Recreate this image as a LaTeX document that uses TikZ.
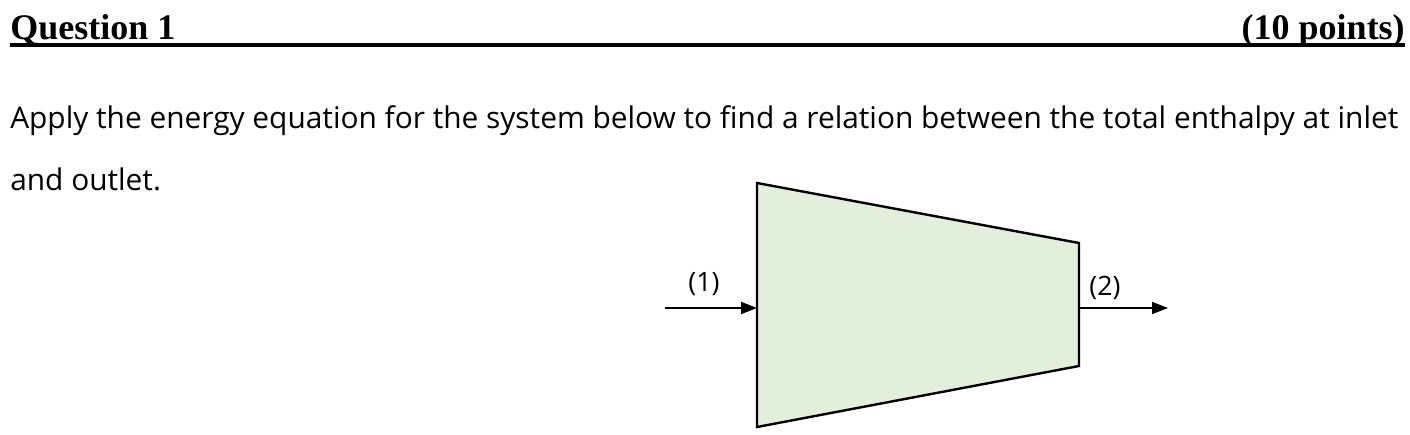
\documentclass[tikz,border=0pt]{standalone}
\usepackage{fontspec}
\setmainfont{Open Sans}
\newfontfamily\hdfont{Liberation Serif}
\usetikzlibrary{arrows.meta}
\begin{document}
\begin{tikzpicture}[x=0.75pt,y=-0.75pt,
  hd/.style={font=\hdfont\bfseries\fontsize{27}{30}\selectfont,inner sep=0pt,anchor=base west},
  body/.style={font=\fontsize{22.4}{26}\selectfont,inner sep=0pt,anchor=base west},
  lbl/.style={font=\fontsize{20}{24}\selectfont,inner sep=0pt,anchor=base},
  arr/.style={line width=1.3pt,-{Triangle[length=12pt,width=9pt]}}]
\useasboundingbox (0,0) rectangle (1410,435);
\node[hd] (q) at (10,40) {Question 1};
\node[hd,anchor=base east] (p) at (1405,40) {(10 points)};
\draw[line width=2.5pt] (10,45) -- (1405,45);
\node[body] (t1) at (10,128) {Apply the energy equation for the system below to find a relation between the total enthalpy at inlet};
\node[body] (t2) at (10,190) {and outlet.};
\draw[line width=1.8pt,fill={rgb,255:red,226;green,239;blue,218}] (757,183) -- (1079,243) -- (1079,366) -- (757,427) -- cycle;
\coordinate (a0) at (665,308); \coordinate (a1) at (757,308);
\coordinate (b0) at (1079,308); \coordinate (b1) at (1168,308);
\draw[arr] (a0) -- (a1);
\draw[arr] (b0) -- (b1);
\node[lbl] (l1) at (704,291) {(1)};
\node[lbl] (l2) at (1105,295) {(2)};
\end{tikzpicture}
\end{document}
